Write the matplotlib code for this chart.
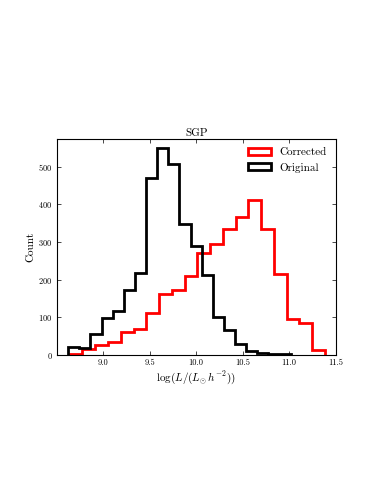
import numpy as np
import matplotlib
matplotlib.use("Agg")
import matplotlib.pyplot as plt
from matplotlib.patches import Patch

plt.rcParams['font.family'] = ['cmr10', 'DejaVu Serif']
plt.rcParams['mathtext.fontset'] = 'cm'
plt.rcParams['axes.formatter.use_mathtext'] = True
plt.rcParams['axes.unicode_minus'] = False

# Histogram counts
corrected_counts = [3, 16, 27, 35, 60, 69, 112, 161, 172, 210,
                    270, 295, 335, 365, 411, 334, 215, 95, 84, 13]
corrected_range = (8.64, 11.385)
original_counts = [22, 19, 56, 97, 117, 172, 217, 469, 549, 506,
                   348, 290, 212, 102, 66, 28, 11, 4, 2, 2]
original_range = (8.624, 11.016)
xticks = [9.0, 9.5, 10.0, 10.5, 11.0, 11.5]
yticks = [0, 100, 200, 300, 400, 500]

fig = plt.figure(figsize=(3.83, 4.95), dpi=100)
ax = fig.add_axes([0.148, 0.283, 0.7285, 0.4367])

c_edges = np.linspace(corrected_range[0], corrected_range[1], len(corrected_counts) + 1)
o_edges = np.linspace(original_range[0], original_range[1], len(original_counts) + 1)

ax.stairs(corrected_counts, c_edges, color='red', linewidth=2, label='Corrected')
ax.stairs(original_counts, o_edges, color='black', linewidth=2, label='Original')

ax.set_xlim(8.5, 11.5)
ax.set_ylim(0, 574)
ax.set_xticks(xticks)
ax.set_xticklabels([f"{t:.1f}" for t in xticks])
ax.set_yticks(yticks)
ax.tick_params(direction='in', top=True, right=True, labelsize=6, length=3, width=0.5, pad=3)
for s in ax.spines.values():
    s.set_linewidth(0.8)

ax.set_title('SGP', fontsize=8, pad=2)
ax.set_xlabel(r'$\log(L/(L_{\odot}\,h^{-2}))$', fontsize=8, labelpad=1)
ax.set_ylabel('Count', fontsize=8, labelpad=2)
handles = [Patch(facecolor='none', edgecolor='red', linewidth=2, label='Corrected'),
           Patch(facecolor='none', edgecolor='black', linewidth=2, label='Original')]
ax.legend(handles=handles, loc='upper right', frameon=False, fontsize=8,
          handlelength=2.0, handleheight=0.6, borderaxespad=0.4)

fig.savefig('out.png', dpi=100)
